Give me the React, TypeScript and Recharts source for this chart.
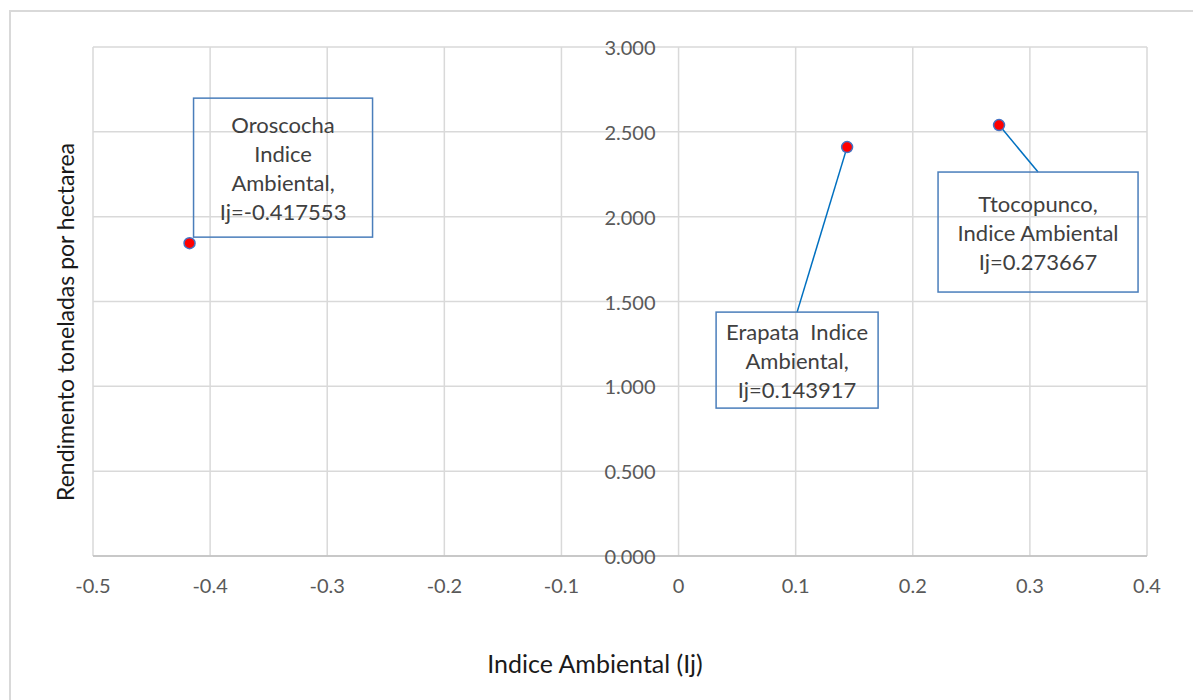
import { ScatterChart, Scatter, XAxis, YAxis, CartesianGrid } from 'recharts';

const names = ['Oroscocha', 'Erapata', 'Ttocopunco'];
const indiceAmbiental = [-0.417553, 0.143917, 0.273667];
const rendimiento = [1.844, 2.41, 2.54];
const labelLines = [
  ['Oroscocha', 'Indice', 'Ambiental,', 'Ij=-0.417553'],
  ['Erapata\u00a0 Indice', 'Ambiental,', 'Ij=0.143917'],
  ['Ttocopunco,', 'Indice Ambiental', 'Ij=0.273667'],
];
const xTicks = [-0.5, -0.4, -0.3, -0.2, -0.1, 0, 0.1, 0.2, 0.3, 0.4];
const yTicks = [0, 0.5, 1, 1.5, 2, 2.5, 3];

const data = names.map((name, i) => ({
  name,
  x: indiceAmbiental[i],
  y: rendimiento[i],
  lines: labelLines[i],
}));

const W = 1193;
const H = 700;
const LEFT = 93;
const RIGHT = 46;
const TOP = 47;
const BOTTOM_EDGE = 556;
const X_AXIS_H = 40;
const Y_AXIS_W = 1;
const PLOT_W = W - LEFT - RIGHT;
const ZERO_X = LEFT + (PLOT_W * 0.5) / 0.9;
const FONT = 'Lato, "Open Sans", sans-serif';

// box placement relative to the point (dx, dy of box top-left, box w/h)
const boxes: Record<string, { dx: number; dy: number; w: number; h: number; leader: boolean }> = {
  Oroscocha: { dx: 4, dy: -145, w: 179, h: 139, leader: false },
  Erapata: { dx: -131, dy: 165, w: 162, h: 96, leader: true },
  Ttocopunco: { dx: -61, dy: 47, w: 200, h: 120, leader: true },
};

const PointWithLabel = (props: any) => {
  const { cx, cy, payload } = props;
  const b = boxes[payload.name];
  const bx = cx + b.dx;
  const by = cy + b.dy;
  const lineH = 29;
  const n = payload.lines.length;
  const startY = by + b.h / 2 - ((n - 1) * lineH) / 2;
  return (
    <g>
      {b.leader && (
        <line x1={cx} y1={cy} x2={bx + b.w / 2} y2={by} stroke="#0070c0" strokeWidth={1.5} />
      )}
      <rect x={bx} y={by} width={b.w} height={b.h} fill="none" stroke="#4a7ebb" strokeWidth={1.5} />
      {payload.lines.map((t: string, i: number) => (
        <text
          key={i}
          x={bx + b.w / 2}
          y={startY + i * lineH}
          textAnchor="middle"
          dominantBaseline="central"
          fontFamily={FONT}
          fontSize={22}
          fill="#404040"
        >
          {t}
        </text>
      ))}
      <circle cx={cx} cy={cy} r={5.5} fill="#ff0000" stroke="#4472c4" strokeWidth={1.5} />
    </g>
  );
};

const XTick = (props: any) => {
  const { x, payload } = props;
  return (
    <text x={x} y={BOTTOM_EDGE + 29} textAnchor="middle" dominantBaseline="central" fontFamily={FONT} fontSize={20} fill="#595959">
      {String(payload.value)}
    </text>
  );
};

const YTick = (props: any) => {
  const { y, payload } = props;
  return (
    <text x={ZERO_X - 23} y={y} textAnchor="end" dominantBaseline="central" fontFamily={FONT} fontSize={20} fill="#595959">
      {Number(payload.value).toFixed(3)}
    </text>
  );
};

export default function App() {
  return (
    <div style={{ position: 'absolute', left: 0, top: 0, width: W, height: H, overflow: 'hidden', background: '#fff' }}>
      <div
        style={{
          position: 'absolute',
          left: 9,
          top: 10,
          width: 1300,
          height: 900,
          border: '2px solid #d9d9d9',
        }}
      />
      <ScatterChart
        width={W}
        height={H}
        margin={{ top: TOP, right: RIGHT, left: LEFT - Y_AXIS_W, bottom: H - BOTTOM_EDGE - X_AXIS_H }}
        style={{ position: 'absolute', left: 0, top: 0 }}
      >
        <CartesianGrid stroke="#d9d9d9" strokeWidth={1.5} />
        <XAxis
          type="number"
          dataKey="x"
          domain={[-0.5, 0.4]}
          ticks={xTicks}
          height={X_AXIS_H}
          axisLine={{ stroke: '#bfbfbf', strokeWidth: 1.5 }}
          tickLine={false}
          tick={<XTick />}
          interval={0}
        />
        <YAxis
          type="number"
          dataKey="y"
          domain={[0, 3]}
          ticks={yTicks}
          width={Y_AXIS_W}
          axisLine={false}
          tickLine={false}
          tick={<YTick />}
          interval={0}
        />
        <Scatter data={data} shape={<PointWithLabel />} isAnimationActive={false} />
      </ScatterChart>
      <div
        style={{
          position: 'absolute',
          left: 65,
          top: 322,
          transform: 'translate(-50%, -50%) rotate(-90deg)',
          whiteSpace: 'nowrap',
          fontFamily: FONT,
          fontSize: 23,
          color: '#1a1a1a',
        }}
      >
        Rendimento toneladas por hectarea
      </div>
      <div
        style={{
          position: 'absolute',
          left: 595,
          top: 663,
          transform: 'translate(-50%, -50%)',
          whiteSpace: 'nowrap',
          fontFamily: FONT,
          fontSize: 25,
          color: '#1a1a1a',
        }}
      >
        Indice Ambiental (Ij)
      </div>
    </div>
  );
}
